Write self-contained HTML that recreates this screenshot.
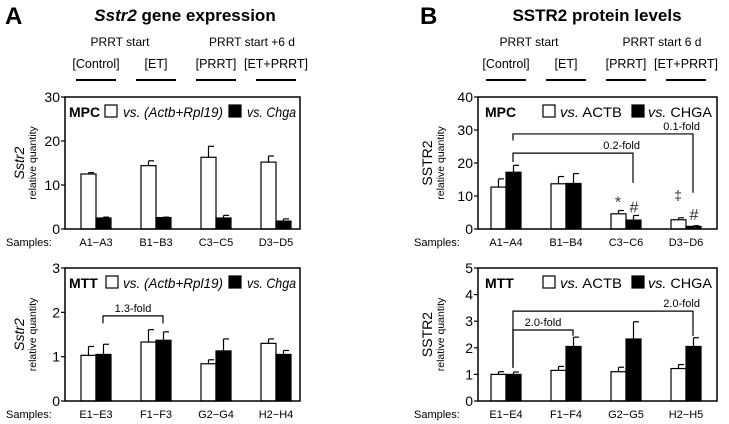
<!DOCTYPE html>
<html><head><meta charset="utf-8"><style>
html,body{margin:0;padding:0;background:#fff;}
svg{display:block;font-family:"Liberation Sans",Arial,sans-serif;}
</style></head><body>
<svg id="fig" width="729" height="424" viewBox="0 0 729 424">
<g>
<text x="5" y="24" font-size="24" font-weight="bold">A</text>
<text x="185" y="21" font-size="17" font-weight="bold" text-anchor="middle"><tspan font-style="italic">Sstr2</tspan> gene expression</text>
<text x="120" y="46" font-size="12" text-anchor="middle">PRRT start</text>
<text x="252" y="46" font-size="12" text-anchor="middle">PRRT start +6 d</text>
</g>
<g>
<text x="420" y="24" font-size="24" font-weight="bold">B</text>
<text x="597" y="21" font-size="17" font-weight="bold" text-anchor="middle">SSTR2 protein levels</text>
<text x="529" y="46" font-size="12" text-anchor="middle">PRRT start</text>
<text x="662" y="46" font-size="12" text-anchor="middle">PRRT start 6 d</text>
</g>
<g id="layer"></g>
</svg>
<script>
// ---- data ----
const groupsHeader = ["[Control]", "[ET]", "[PRRT]", "[ET+PRRT]"];
const catsA1 = ["A1\u2212A3", "B1\u2212B3", "C3\u2212C5", "D3\u2212D5"];
const whiteA1 = [12.5, 14.4, 16.3, 15.2];
const whiteErrA1 = [0.3, 1.1, 2.5, 1.4];
const blackA1 = [2.5, 2.6, 2.5, 1.8];
const blackErrA1 = [0.2, 0.1, 0.6, 0.5];
const ticksA1 = [0, 10, 20, 30];

const catsA2 = ["E1\u2212E3", "F1\u2212F3", "G2\u2212G4", "H2\u2212H4"];
const whiteA2 = [1.03, 1.33, 0.84, 1.30];
const whiteErrA2 = [0.2, 0.28, 0.09, 0.1];
const blackA2 = [1.05, 1.37, 1.13, 1.05];
const blackErrA2 = [0.23, 0.19, 0.27, 0.09];
const ticksA2 = [0, 1, 2, 3];

const catsB1 = ["A1\u2212A4", "B1\u2212B4", "C3\u2212C6", "D3\u2212D6"];
const whiteB1 = [12.7, 13.7, 4.6, 2.8];
const whiteErrB1 = [2.5, 2.2, 1.0, 0.6];
const blackB1 = [17.2, 13.8, 2.7, 0.8];
const blackErrB1 = [2.1, 3.0, 1.4, 0.2];
const ticksB1 = [0, 10, 20, 30, 40];

const catsB2 = ["E1\u2212E4", "F1\u2212F4", "G2\u2212G5", "H2\u2212H5"];
const whiteB2 = [1.0, 1.15, 1.1, 1.22];
const whiteErrB2 = [0.1, 0.15, 0.17, 0.15];
const blackB2 = [1.0, 2.05, 2.33, 2.05];
const blackErrB2 = [0.09, 0.35, 0.65, 0.33];
const ticksB2 = [0, 1, 2, 3, 4, 5];

const NS = "http://www.w3.org/2000/svg";
const layer = document.getElementById("layer");
function mk(tag, attrs, parent, text) {
  const e = document.createElementNS(NS, tag);
  for (const k in attrs) e.setAttribute(k, attrs[k]);
  if (text !== undefined) e.textContent = text;
  (parent || layer).appendChild(e);
  return e;
}

function header(centers, prefix) {
  groupsHeader.forEach((g, i) => {
    const t = mk("text", {x: centers[i], y: 68, "font-size": 12.5, "text-anchor": "middle"}, layer, g);
    
    
    const l = mk("line", {x1: centers[i] - 20, x2: centers[i] + 20, y1: 80, y2: 80, stroke: "#000", "stroke-width": 2});
    
    
  });
}

function chart(o) {
  const g = mk("g", {});
  
  
  const y = v => o.bottom - (v / o.max) * (o.bottom - o.top);
  o.ticks.forEach(t => {
    mk("line", {x1: o.left - 4, x2: o.left, y1: y(t), y2: y(t), stroke: "#000", "stroke-width": 1.2}, g);
    const tx = mk("text", {x: o.left - 5, y: y(t) + 5, "font-size": 14, "text-anchor": "end"}, g, String(t));
    
    
  });
  o.cats.forEach((c, i) => {
    const cx = o.c0 + i * 60;
    [[o.white, o.whiteErr, "#fff", cx - 15], [o.black, o.blackErr, "#000", cx]].forEach((s, k) => {
      const v = s[0][i], e = s[1][i], x0 = s[3];
      mk("line", {x1: x0 + 7.5, x2: x0 + 7.5, y1: y(v), y2: y(v + e), stroke: "#000", "stroke-width": 1.2}, g);
      mk("line", {x1: x0 + 7.5, x2: x0 + 13, y1: y(v + e), y2: y(v + e), stroke: "#000", "stroke-width": 1.2}, g);
      const r = mk("rect", {x: x0, y: y(v), width: 15, height: y(0) - y(v), fill: s[2], stroke: "#000", "stroke-width": 1.2}, g);
      
      
    });
    const lb = mk("text", {x: cx, y: o.bottom + 17, "font-size": 11, "text-anchor": "middle"}, g, c);
    
    
  });
  const sm = mk("text", {x: 6, y: o.bottom + 17, "font-size": 11, "text-anchor": "start"}, g, "Samples:");
  
  
  if (o.sx) sm.setAttribute("x", o.sx);
  const fr = mk("rect", {x: o.left, y: o.top, width: o.right - o.left, height: o.bottom - o.top, fill: "none", stroke: "#000", "stroke-width": 1.5}, g);
  
  
  const yt = mk("text", {transform: `translate(${o.ytx},${(o.top + o.bottom) / 2}) rotate(-90)`, "font-size": 14, "text-anchor": "middle", "font-style": o.italicTitle ? "italic" : "normal"}, g, o.ytitle);
  
  
  const yt2 = mk("text", {transform: `translate(${o.ytx + 12},${(o.top + o.bottom) / 2}) rotate(-90)`, "font-size": 10.5, "text-anchor": "middle"}, g, "relative quantity");
  
  
  const L = o.legend, ly = o.top + 20;
  const lg = mk("g", {}, g);
  
  
  mk("text", {x: L.mx, y: ly, "font-size": 14, "font-weight": "bold"}, lg, L.mtext);
  mk("rect", {x: L.w1, y: ly - 12, width: 12, height: 12, fill: "#fff", stroke: "#000", "stroke-width": 1.2}, lg);
  mk("text", {x: L.t1, y: ly, "font-size": 14, "font-style": L.it ? "italic" : "normal", textLength: L.l1, lengthAdjust: "spacingAndGlyphs"}, lg).innerHTML = L.s1;
  mk("rect", {x: L.w2, y: ly - 12, width: 12, height: 12, fill: "#000", stroke: "#000", "stroke-width": 1.2}, lg);
  mk("text", {x: L.t2, y: ly, "font-size": 14, "font-style": L.it ? "italic" : "normal", textLength: L.l2, lengthAdjust: "spacingAndGlyphs"}, lg).innerHTML = L.s2;
  (o.brackets || []).forEach(b => {
    const bx1 = o.c0 + b.i1 * 60 + b.o1, bx2 = o.c0 + b.i2 * 60 + b.o2;
    const p = mk("path", {d: `M${bx1},${y(b.l)} V${y(b.top)} H${bx2} V${y(b.r)}`, fill: "none", stroke: "#000", "stroke-width": 1.2}, g);
    
    
    const bt = mk("text", {x: b.tx ? b.tx : (bx1 + bx2) / 2, y: y(b.top) - 4, "font-size": 11, "text-anchor": b.tx ? "end" : "middle"}, g, b.label);
    
    
  });
  (o.marks || []).forEach(m => {
    const mt = mk("text", {x: o.c0 + m.i * 60 + m.o, y: y(m.v), "font-size": m.fs || 16, "text-anchor": "middle", fill: "#333"}, g, m.s);
    
    
  });
}

header([96, 156, 216, 276], "a");
header([506, 566, 626, 686], "b");

chart({name: "chart-a-mpc", left: 65, right: 300, top: 97, bottom: 229, max: 30, ticks: ticksA1, cats: catsA1,
  white: whiteA1, whiteErr: whiteErrA1, black: blackA1, blackErr: blackErrA1, c0: 96, ytx: 24, ytitle: "Sstr2", italicTitle: true,
  legend: {mx: 69, mtext: "MPC", w1: 105, t1: 123, l1: 100, s1: "vs. (Actb+Rpl19)", w2: 229, t2: 247, l2: 49, s2: "vs. Chga", it: true}});

chart({name: "chart-a-mtt", left: 65, right: 300, top: 268, bottom: 401, max: 3, ticks: ticksA2, cats: catsA2,
  white: whiteA2, whiteErr: whiteErrA2, black: blackA2, blackErr: blackErrA2, c0: 96, ytx: 24, ytitle: "Sstr2", italicTitle: true,
  legend: {mx: 69, mtext: "MTT", w1: 106, t1: 123, l1: 100, s1: "vs. (Actb+Rpl19)", w2: 229, t2: 247, l2: 49, s2: "vs. Chga", it: true},
  brackets: [{i1: 0, o1: 7, i2: 1, o2: 7, l: 1.75, top: 1.92, r: 1.75, label: "1.3-fold"}]});

chart({name: "chart-b-mpc", left: 478, right: 717, top: 97, bottom: 229, max: 40, ticks: ticksB1, cats: catsB1, sx: 414,
  white: whiteB1, whiteErr: whiteErrB1, black: blackB1, blackErr: blackErrB1, c0: 506, ytx: 432, ytitle: "SSTR2",
  legend: {mx: 485, mtext: "MPC", w1: 543, t1: 560, l1: 62, s1: "<tspan font-style='italic'>vs.</tspan> ACTB", w2: 632, t2: 648, l2: 64, s2: "<tspan font-style='italic'>vs.</tspan> CHGA", it: false},
  brackets: [{i1: 0, o1: 7, i2: 3, o2: 7, l: 26.8, top: 28.8, r: 11, label: "0.1-fold", tx: 700},
             {i1: 0, o1: 7, i2: 2, o2: 7, l: 20.3, top: 23, r: 14, label: "0.2-fold", tx: 640}],
  marks: [{i: 2, o: -8, v: 6.5, s: "*"}, {i: 2, o: 8, v: 5, s: "#"}, {i: 3, o: -8, v: 8.8, s: "\u2021", fs: 14}, {i: 3, o: 8, v: 2.8, s: "#"}]});

chart({name: "chart-b-mtt", left: 478, right: 717, top: 268, bottom: 401, max: 5, ticks: ticksB2, cats: catsB2, sx: 414,
  white: whiteB2, whiteErr: whiteErrB2, black: blackB2, blackErr: blackErrB2, c0: 506, ytx: 432, ytitle: "SSTR2",
  legend: {mx: 485, mtext: "MTT", w1: 543, t1: 560, l1: 62, s1: "<tspan font-style='italic'>vs.</tspan> ACTB", w2: 632, t2: 648, l2: 64, s2: "<tspan font-style='italic'>vs.</tspan> CHGA", it: false},
  brackets: [{i1: 0, o1: 7, i2: 3, o2: 7, l: 1.25, top: 3.38, r: 2.45, label: "2.0-fold", tx: 700},
             {i1: 0, o1: 7, i2: 1, o2: 7, l: 1.25, top: 2.67, r: 2.45, label: "2.0-fold"}]});
</script>
</body></html>
